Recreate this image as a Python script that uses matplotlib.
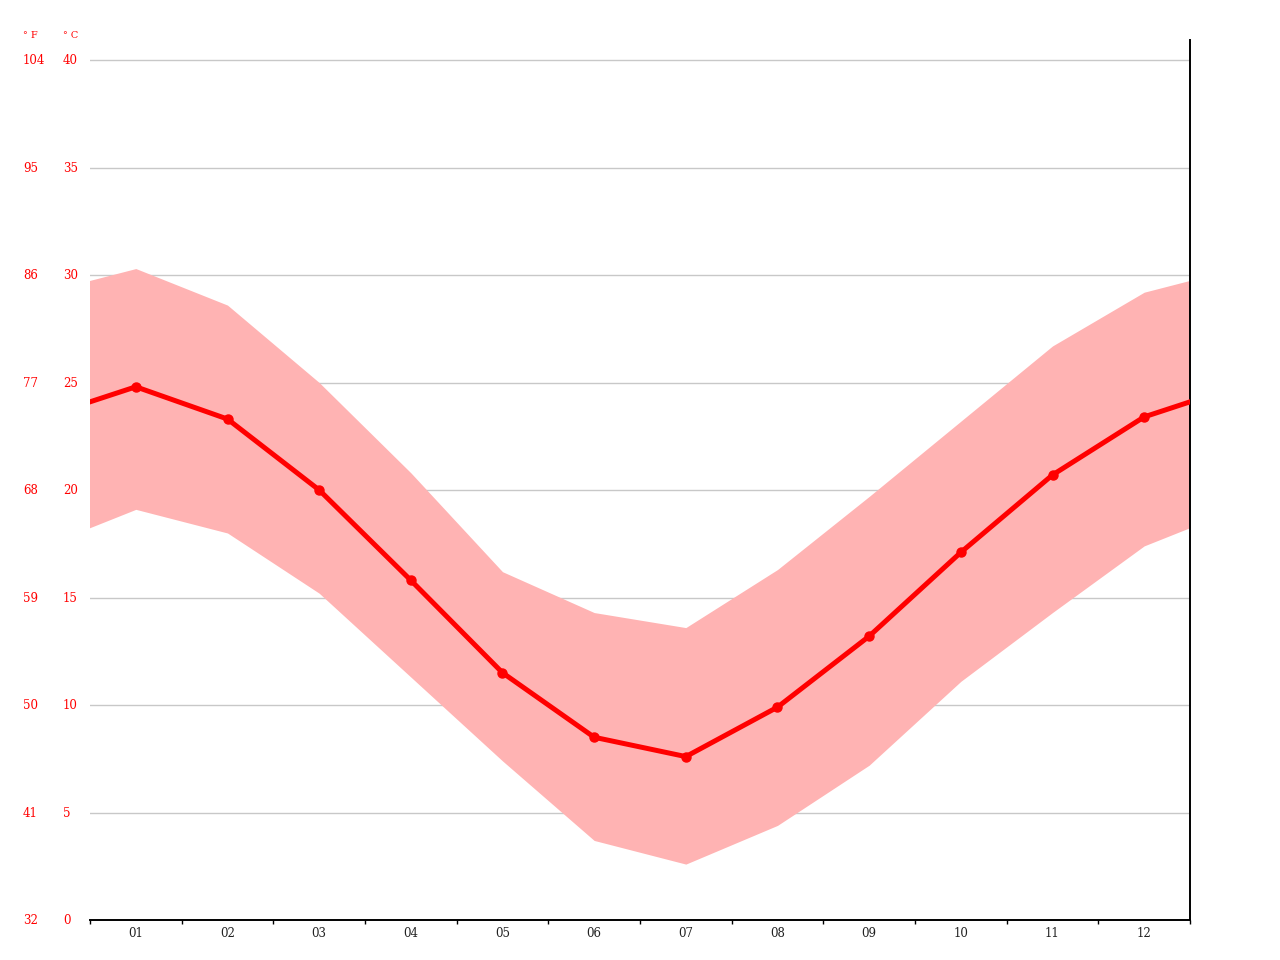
import numpy as np
import matplotlib
matplotlib.use("Agg")
import matplotlib.pyplot as plt
import matplotlib.transforms as mtransforms

# Monthly temperatures (°C)
months = ["01", "02", "03", "04", "05", "06", "07", "08", "09", "10", "11", "12"]
temp_mean = [24.8, 23.3, 20.0, 15.8, 11.5, 8.5, 7.6, 9.9, 13.2, 17.1, 20.7, 23.4]
temp_max = [30.3, 28.6, 25.0, 20.8, 16.2, 14.3, 13.6, 16.3, 19.7, 23.2, 26.7, 29.2]
temp_min = [19.1, 18.0, 15.2, 11.3, 7.4, 3.7, 2.6, 4.4, 7.2, 11.1, 14.3, 17.4]

c_ticks = [0, 5, 10, 15, 20, 25, 30, 35, 40]
f_labels = ["32", "41", "50", "59", "68", "77", "86", "95", "104"]

red = "#ff0000"
band = "#ffb3b3"

fig = plt.figure(figsize=(12.8, 9.6), dpi=100)
ax = fig.add_axes([90 / 1280, 40 / 960, 1100 / 1280, 880 / 960])

# wrap Dec before Jan and Jan after Dec so the curves run to the edges
x = np.arange(0, 14)
mean_w = [temp_mean[-1]] + temp_mean + [temp_mean[0]]
max_w = [temp_max[-1]] + temp_max + [temp_max[0]]
min_w = [temp_min[-1]] + temp_min + [temp_min[0]]

ax.fill_between(x, min_w, max_w, color=band, lw=0, zorder=2)
ax.plot(x, mean_w, color=red, lw=3.6, zorder=3, solid_capstyle="butt",
        marker="o", markersize=6.5, markevery=list(range(1, 13)))

ax.set_xlim(0.5, 12.5)
ax.set_ylim(0, 880 / 21.5)

for c in c_ticks[1:]:
    ax.axhline(c, color="#c8c8c8", lw=1, zorder=1)

ax.set_xticks(range(1, 13))
ax.set_xticklabels(months, family="DejaVu Serif", fontsize=8.5, color="#222222")
ax.tick_params(axis="x", which="major", length=0, pad=5)
ax.set_xticks(np.arange(0.5, 13, 1), minor=True)
ax.tick_params(axis="x", which="minor", length=3, width=1, color="black", direction="out")
ax.set_yticks([])

for s in ["left", "top"]:
    ax.spines[s].set_visible(False)
ax.spines["bottom"].set_linewidth(1.4)
ax.spines["right"].set_linewidth(1.4)

# two-column temperature labels on the left
tr = mtransforms.blended_transform_factory(fig.transFigure, ax.transData)
for c, f in zip(c_ticks, f_labels):
    ax.text(63 / 1280, c - 0.03, str(c), transform=tr, ha="left", va="center",
            family="DejaVu Serif", fontsize=8.5, color=red, clip_on=False)
    ax.text(23 / 1280, c - 0.03, f, transform=tr, ha="left", va="center",
            family="DejaVu Serif", fontsize=8.5, color=red, clip_on=False)
fig.text(23 / 1280, 1 - 36 / 960, "° F", ha="left", va="center",
         family="DejaVu Serif", fontsize=7, color=red)
fig.text(63 / 1280, 1 - 36 / 960, "° C", ha="left", va="center",
         family="DejaVu Serif", fontsize=7, color=red)

fig.savefig("out.png", dpi=100)
